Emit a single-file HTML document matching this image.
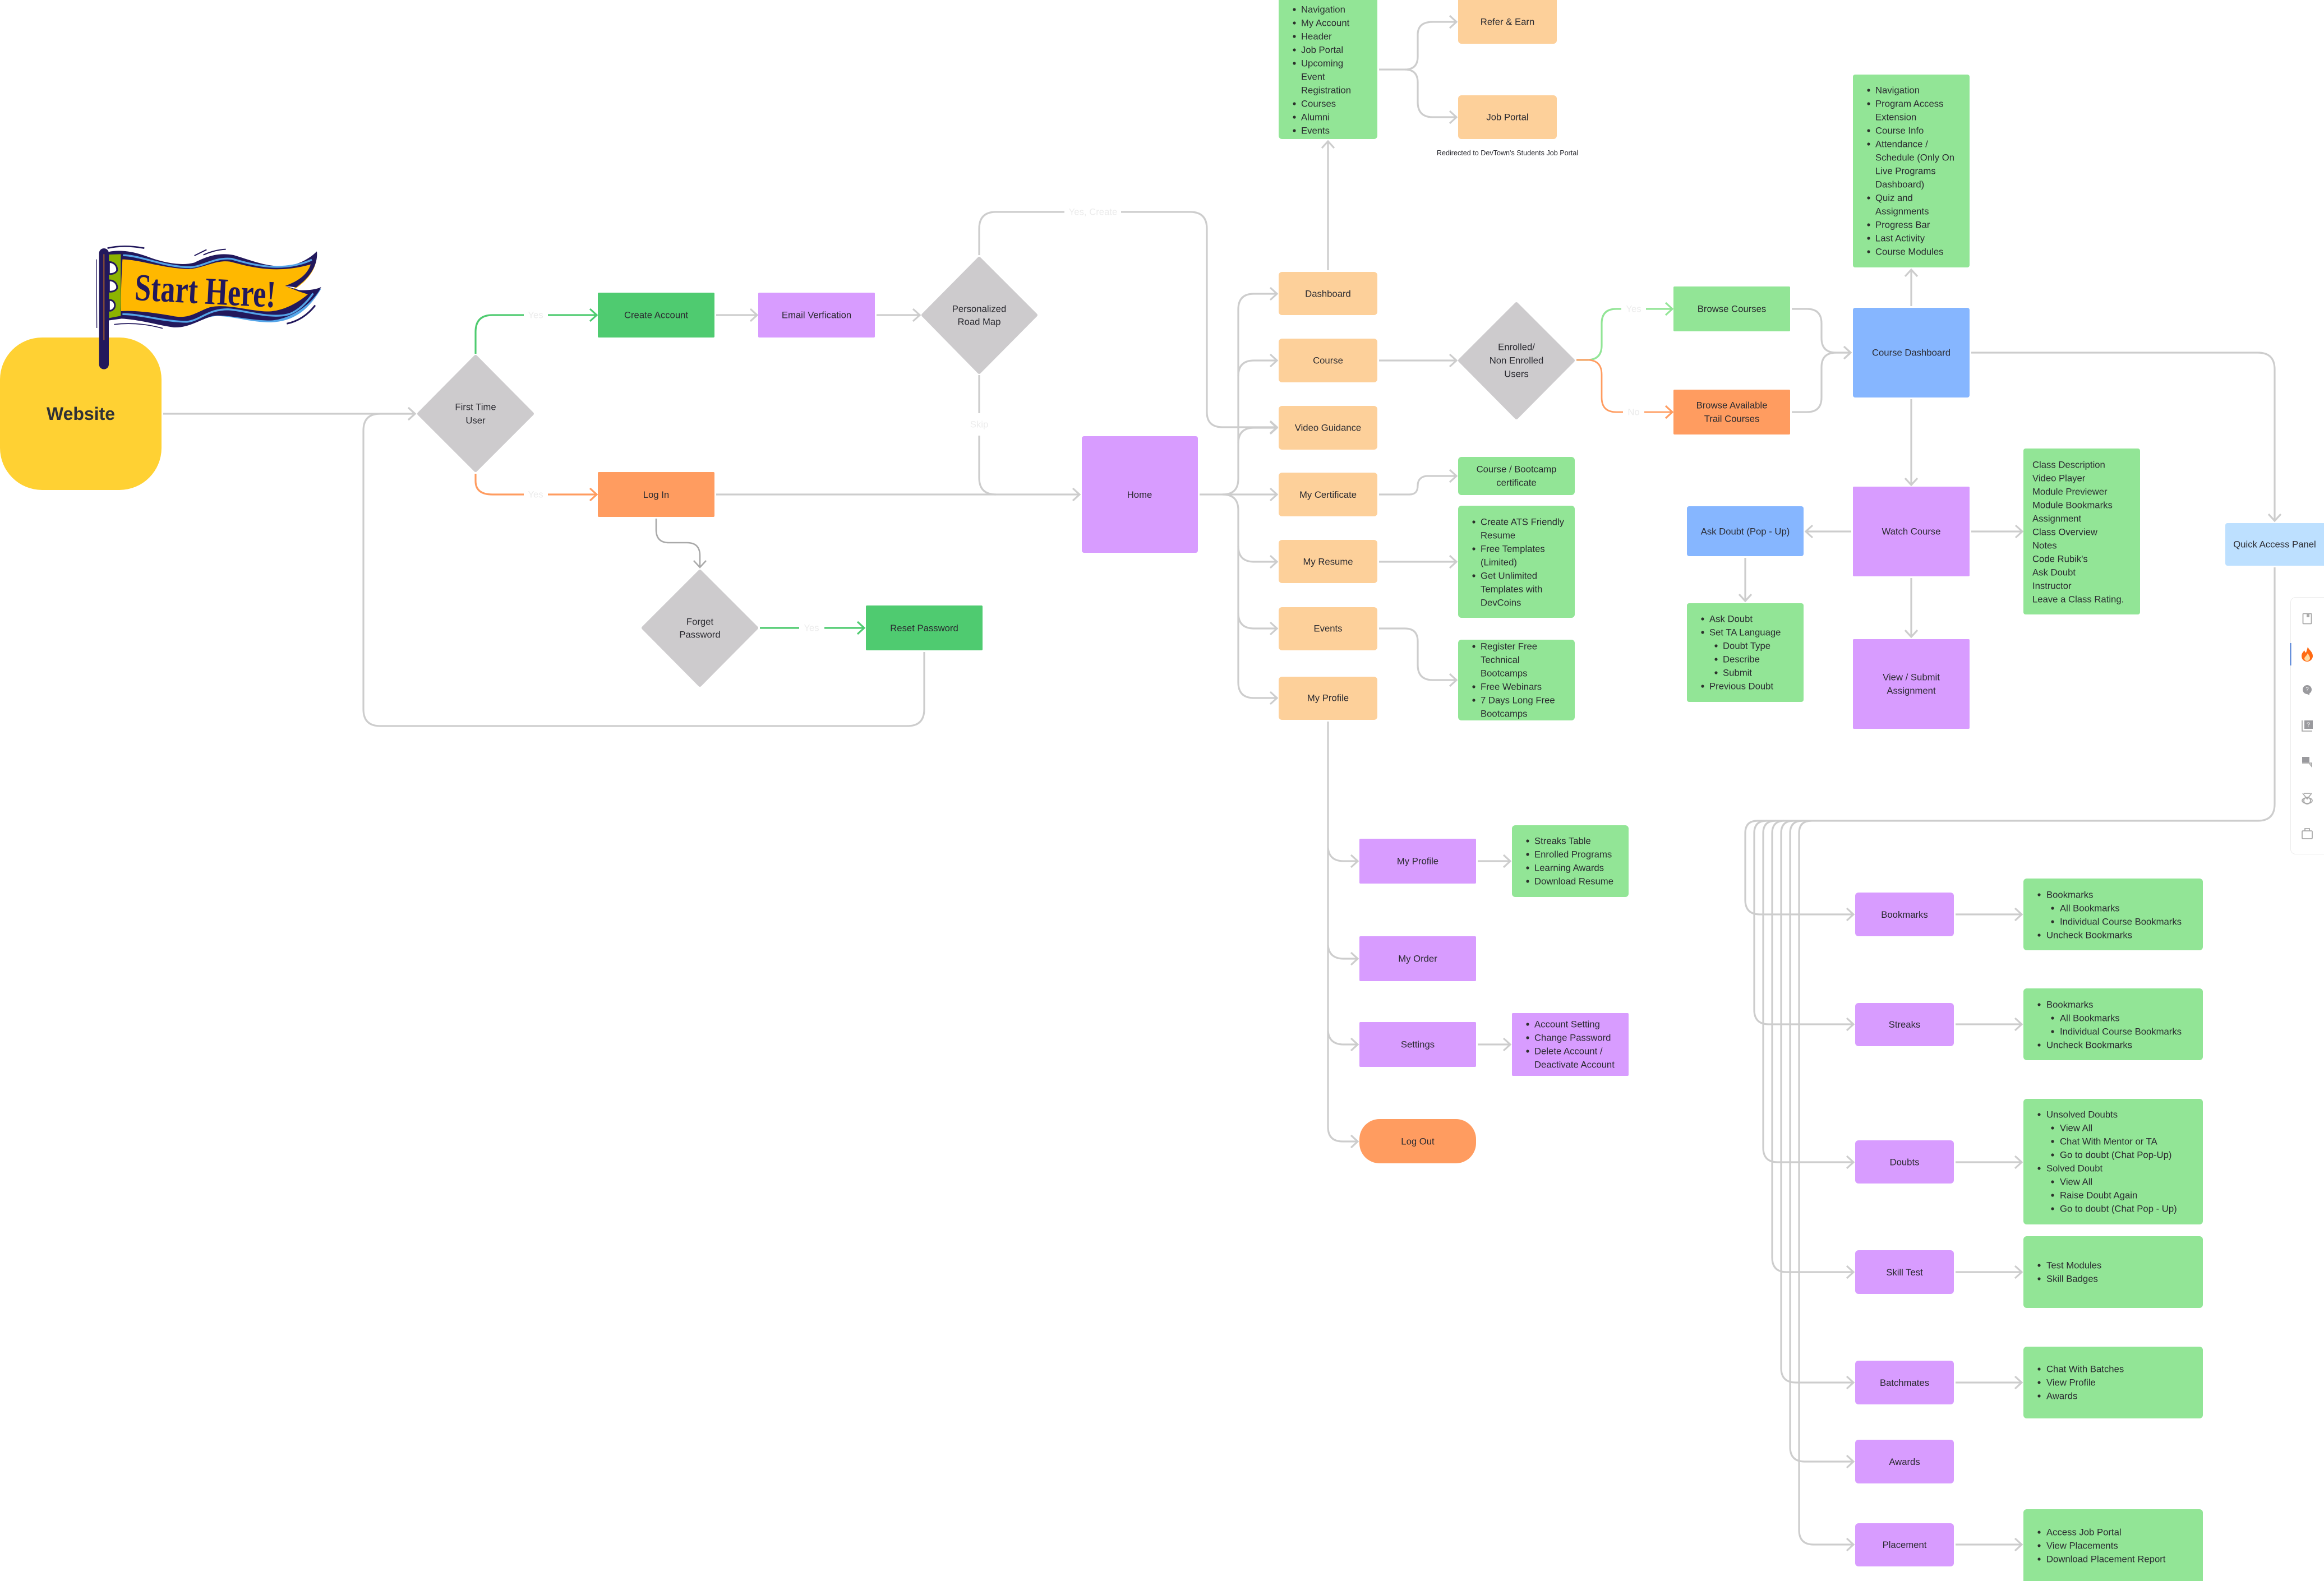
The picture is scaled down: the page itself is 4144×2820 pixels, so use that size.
<!DOCTYPE html>
<html lang="en">
<head>
<meta charset="utf-8">
<title>Website user flow</title>
<style>
html,body{margin:0;padding:0;background:#fff;}
body{width:4144px;height:2820px;overflow:hidden;}
svg{display:block;}
text{font-family:"Liberation Sans",sans-serif;font-size:16.7px;fill:#2a2a30;dominant-baseline:central;}
.c text,text.c{text-anchor:middle;}
.ln{fill:none;stroke:#cdcdcd;stroke-width:3.2;stroke-linejoin:round;}
.lb{fill:#ececec;text-anchor:middle;}
.bu{fill:#2b2f2b;}
</style>
</head>
<body>
<svg xmlns="http://www.w3.org/2000/svg" width="4144" height="2820" viewBox="0 0 4144 2820">
<defs>
<marker id="ag" markerUnits="userSpaceOnUse" markerWidth="30" markerHeight="30" refX="16" refY="15" orient="auto" overflow="visible"><path d="M4 4 L16 15 L4 26" fill="none" stroke="#cdcdcd" stroke-width="3.2"/></marker>
<marker id="ad" markerUnits="userSpaceOnUse" markerWidth="30" markerHeight="30" refX="16" refY="15" orient="auto" overflow="visible"><path d="M4 4 L16 15 L4 26" fill="none" stroke="#a9a9a9" stroke-width="2.6"/></marker>
<marker id="agr" markerUnits="userSpaceOnUse" markerWidth="30" markerHeight="30" refX="16" refY="15" orient="auto" overflow="visible"><path d="M4 4 L16 15 L4 26" fill="none" stroke="#4fcb70" stroke-width="3.2"/></marker>
<marker id="alg" markerUnits="userSpaceOnUse" markerWidth="30" markerHeight="30" refX="16" refY="15" orient="auto" overflow="visible"><path d="M4 4 L16 15 L4 26" fill="none" stroke="#92e596" stroke-width="3.2"/></marker>
<marker id="aor" markerUnits="userSpaceOnUse" markerWidth="30" markerHeight="30" refX="16" refY="15" orient="auto" overflow="visible"><path d="M4 4 L16 15 L4 26" fill="none" stroke="#ff9c60" stroke-width="3.2"/></marker>
</defs>

<!-- connectors -->
<g class="ln">
<path d="M291 738 H740" marker-end="url(#ag)"/>
<path d="M1648 1163 V1265 Q1648 1295 1618 1295 H678 Q648 1295 648 1265 V768 Q648 738 678 738 H740" marker-end="url(#ag)"/>
<path d="M1277 562 H1350" marker-end="url(#ag)"/>
<path d="M1563 562 H1640" marker-end="url(#ag)"/>
<path d="M1746 455 V408 Q1746 378 1776 378 H2122 Q2152 378 2152 408 V735 Q2152 762 2180 762 H2277" marker-end="url(#ag)"/>
<path d="M1746 669 V852 Q1746 882 1776 882"/>
<path d="M1277 882 H1925" marker-end="url(#ag)"/>

<path d="M2139 882 H2277" marker-end="url(#ag)"/>
<path d="M2180 882 Q2208 882 2208 854 V552 Q2208 524 2236 524 H2277" marker-end="url(#ag)"/>
<path d="M2208 671 Q2208 643 2236 643 H2277" marker-end="url(#ag)"/>
<path d="M2208 791 Q2208 763 2236 763 H2277" marker-end="url(#ag)"/>
<path d="M2180 882 Q2208 882 2208 910 V1217 Q2208 1245 2236 1245 H2277" marker-end="url(#ag)"/>
<path d="M2208 974 Q2208 1002 2236 1002 H2277" marker-end="url(#ag)"/>
<path d="M2208 1093 Q2208 1121 2236 1121 H2277" marker-end="url(#ag)"/>

<path d="M2368 482 V252" marker-end="url(#ag)"/>
<path d="M2459 124 H2505 Q2528 124 2528 101 V62 Q2528 39 2555 39 H2597" marker-end="url(#ag)"/>
<path d="M2505 124 Q2528 124 2528 147 V182 Q2528 209 2555 209 H2597" marker-end="url(#ag)"/>
<path d="M2459 643 H2597" marker-end="url(#ag)"/>
<path d="M2459 882 H2513 C2525 882 2528 875 2528 866 C2528 855 2535 849 2546 849 H2597" marker-end="url(#ag)"/>
<path d="M2459 1002 H2597" marker-end="url(#ag)"/>
<path d="M2459 1121 H2505 Q2528 1121 2528 1144 V1186 Q2528 1213 2555 1213 H2597" marker-end="url(#ag)"/>

<path d="M2368 1287 V2010 Q2368 2036 2394 2036 H2421" marker-end="url(#ag)"/>
<path d="M2368 1512 Q2370 1536 2396 1536 H2421" marker-end="url(#ag)"/>
<path d="M2368 1686 Q2370 1710 2396 1710 H2421" marker-end="url(#ag)"/>
<path d="M2368 1839 Q2370 1863 2396 1863 H2421" marker-end="url(#ag)"/>
<path d="M2635 1536 H2693" marker-end="url(#ag)"/>
<path d="M2635 1863 H2693" marker-end="url(#ag)"/>

<path d="M3195 551 H3222 Q3248 551 3248 577 V603 Q3248 629 3274 629 H3300" marker-end="url(#ag)"/>
<path d="M3195 735 H3222 Q3248 735 3248 709 V655 Q3248 629 3274 629 H3300" marker-end="url(#ag)"/>
<path d="M3408 546 V481" marker-end="url(#ag)"/>
<path d="M3408 712 V865" marker-end="url(#ag)"/>
<path d="M3408 1031 V1136" marker-end="url(#ag)"/>
<path d="M3301 948 H3220" marker-end="url(#ag)"/>
<path d="M3515 948 H3606" marker-end="url(#ag)"/>
<path d="M3112 995 V1072" marker-end="url(#ag)"/>
<path d="M3515 629 H4026 Q4056 629 4056 659 V929" marker-end="url(#ag)"/>

<path d="M4056 1012 V1434 Q4056 1464 4026 1464 H3134 Q3112 1464 3112 1486 V1605 Q3112 1631 3138 1631 H3305" marker-end="url(#ag)"/>
<path d="M3150 1464 Q3128 1464 3128 1486 V1801 Q3128 1827 3154 1827 H3305" marker-end="url(#ag)"/>
<path d="M3166 1464 Q3144 1464 3144 1486 V2047 Q3144 2073 3170 2073 H3305" marker-end="url(#ag)"/>
<path d="M3182 1464 Q3160 1464 3160 1486 V2243 Q3160 2269 3186 2269 H3305" marker-end="url(#ag)"/>
<path d="M3198 1464 Q3176 1464 3176 1486 V2440 Q3176 2466 3202 2466 H3305" marker-end="url(#ag)"/>
<path d="M3214 1464 Q3192 1464 3192 1486 V2581 Q3192 2607 3218 2607 H3305" marker-end="url(#ag)"/>
<path d="M3230 1464 Q3208 1464 3208 1486 V2729 Q3208 2755 3234 2755 H3305" marker-end="url(#ag)"/>
<path d="M3487 1631 H3605" marker-end="url(#ag)"/>
<path d="M3487 1827 H3605" marker-end="url(#ag)"/>
<path d="M3487 2073 H3605" marker-end="url(#ag)"/>
<path d="M3487 2269 H3605" marker-end="url(#ag)"/>
<path d="M3487 2466 H3605" marker-end="url(#ag)"/>
<path d="M3487 2755 H3605" marker-end="url(#ag)"/>
</g>

<!-- coloured connectors -->
<path d="M848 631 V592 Q848 562 878 562 H1064" fill="none" stroke="#4fcb70" stroke-width="3.2" marker-end="url(#agr)"/>
<path d="M848 845 V858 Q848 882 878 882 H1064" fill="none" stroke="#ff9c60" stroke-width="3.2" marker-end="url(#aor)"/>
<path d="M1355 1120 H1541" fill="none" stroke="#4fcb70" stroke-width="3.2" marker-end="url(#agr)"/>
<path d="M1170 925 V945 Q1170 968 1193 968 H1225 Q1248 968 1248 991 V1012" fill="none" stroke="#a9a9a9" stroke-width="2.6" marker-end="url(#ad)"/>
<path d="M2811 642 H2830 Q2856 642 2856 616 V577 Q2856 551 2882 551 H2982" fill="none" stroke="#92e596" stroke-width="3.2" marker-end="url(#alg)"/>
<path d="M2811 642 H2830 Q2856 642 2856 668 V709 Q2856 735 2882 735 H2982" fill="none" stroke="#ff9c60" stroke-width="2.8" marker-end="url(#aor)"/>

<!-- connector labels -->
<rect x="934" y="550" width="43" height="24" fill="#fff"/><text x="955" y="562" class="lb">Yes</text>
<rect x="934" y="870" width="43" height="24" fill="#fff"/><text x="955" y="882" class="lb">Yes</text>
<rect x="1898" y="366" width="101" height="24" fill="#fff"/><text x="1949" y="378" class="lb">Yes, Create</text>
<rect x="1726" y="737" width="40" height="40" fill="#fff"/><text x="1746" y="757" class="lb">Skip</text>
<rect x="1425" y="1108" width="45" height="24" fill="#fff"/><text x="1447" y="1120" class="lb">Yes</text>
<rect x="2891" y="539" width="44" height="24" fill="#fff"/><text x="2913" y="551" class="lb">Yes</text>
<rect x="2894" y="723" width="38" height="24" fill="#fff"/><text x="2913" y="735" class="lb">No</text>

<!-- website -->
<rect x="0" y="602" width="288" height="272" rx="75" ry="75" fill="#ffd133"/>
<text x="144" y="738" style="font-size:32px;font-weight:700;text-anchor:middle;fill:#2f3136">Website</text>

<!-- flag -->
<g transform="translate(150 420) scale(.33333)">
<path d="M198 440 C300 440 400 465 480 478 C570 490 630 440 700 432 C790 428 880 465 1000 465 C1120 460 1200 400 1268 285 L1230 300 L1100 400 L700 420 L400 470 L200 430 Z" fill="#55a5e8"/>
<path d="M1190 150 C1240 130 1245 120 1240 140 C1232 190 1190 250 1120 290 Z" fill="#ffb800"/>
<path d="M130 88 C190 75 260 85 330 110 C420 145 520 165 590 145 C660 110 720 90 800 105 C900 135 1000 178 1100 160 C1160 150 1210 120 1245 85 C1250 130 1235 200 1150 265 L1135 278 L1075 270 L1150 292 C1190 295 1240 290 1268 276 C1240 340 1130 445 1000 455 C880 455 760 420 690 430 C620 450 560 495 480 492 C400 482 300 450 200 445 L130 455 Z" fill="#22185c"/>
<path d="M133 102 L196 100 L196 430 L133 442 Z" fill="#8cb300"/>
<path d="M133 142 C170 142 180 175 175 190 C165 205 145 208 133 205 Z M133 240 C170 240 180 270 175 285 C165 300 145 302 133 300 Z M133 345 C165 345 170 375 160 390 C150 402 140 404 133 402 Z" fill="#fff" stroke="#22185c" stroke-width="9"/>
<path d="M205 128 C300 130 420 175 560 180 C640 175 700 130 780 140 C880 165 1020 210 1212 155 C1190 220 1130 250 1075 270 L1150 300 L1197 315 C1120 380 1030 415 950 405 C850 395 750 365 670 385 C600 410 560 450 470 430 C380 415 280 400 198 405 C195 320 200 220 205 128 Z" fill="#ffb800"/>
<path d="M208 106 C300 106 430 170 570 170 C640 165 700 115 790 125 C880 150 1050 205 1218 130" fill="none" stroke="#55a5e8" stroke-width="10"/>
<path d="M205 421 C300 420 430 462 550 462 C620 455 660 395 770 395 C860 400 1000 450 1100 420 C1150 400 1190 360 1225 310" fill="none" stroke="#55a5e8" stroke-width="10"/>
<line x1="106" y1="95" x2="106" y2="690" stroke="#22185c" stroke-width="52" stroke-linecap="round"/>
<line x1="106" y1="100" x2="106" y2="560" stroke="#c9721e" stroke-width="5"/>
<g fill="none" stroke="#22185c">
<path d="M125 68 C180 55 250 55 322 68" stroke-width="8"/>
<path d="M66 128 C66 250 68 370 68 495" stroke-width="4"/>
<path d="M160 476 C250 465 340 475 420 497" stroke-width="5"/>
<path d="M590 108 L655 76" stroke-width="6"/>
<path d="M638 104 C680 85 720 76 758 74" stroke-width="6"/>
<path d="M1084 472 C1150 458 1200 420 1236 374" stroke-width="9"/>
</g>
<text transform="translate(268 345) rotate(3)" textLength="755" lengthAdjust="spacingAndGlyphs" style="font-family:'Liberation Serif',serif;font-size:205px;font-weight:700;fill:#22185c;dominant-baseline:alphabetic">Start Here!</text>
</g>

<!-- diamonds -->
<g fill="#cdcbcd" stroke="#cdcbcd" stroke-width="6" stroke-linejoin="round">
<path d="M848 636 L949 738 L848 839 L747 738 Z"/>
<path d="M1746 461 L1847 562 L1746 664 L1646 562 Z"/>
<path d="M1248 1019 L1349 1120 L1248 1222 L1147 1120 Z"/>
<path d="M2704 542 L2805 643 L2704 745 L2603 643 Z"/>
</g>
<g class="c">
<text x="848" y="726">First Time</text><text x="848" y="750">User</text>
<text x="1746" y="551">Personalized</text><text x="1746" y="574">Road Map</text>
<text x="1248" y="1109">Forget</text><text x="1248" y="1132">Password</text>
<text x="2704" y="619">Enrolled/</text><text x="2704" y="643">Non Enrolled</text><text x="2704" y="667">Users</text>
</g>

<!-- boxes -->
<g fill="#4fcb70"><rect x="1066" y="522" width="208" height="80" rx="2"/><rect x="1544" y="1080" width="208" height="80" rx="2"/></g>
<g fill="#d89cff">
<rect x="1352" y="522" width="208" height="80" rx="2"/>
<rect x="1929" y="778" width="207" height="208" rx="4"/>
<rect x="2424" y="1496" width="208" height="80" rx="2"/>
<rect x="2424" y="1670" width="208" height="80" rx="2"/>
<rect x="2424" y="1823" width="208" height="80" rx="2"/>
<rect x="2696" y="1807" width="208" height="112" rx="2"/>
<rect x="3304" y="868" width="208" height="160" rx="2"/>
<rect x="3304" y="1140" width="208" height="160" rx="2"/>
<rect x="3308" y="1592" width="176" height="78" rx="6"/>
<rect x="3308" y="1789" width="176" height="77" rx="6"/>
<rect x="3308" y="2034" width="176" height="77" rx="6"/>
<rect x="3308" y="2230" width="176" height="78" rx="6"/>
<rect x="3308" y="2427" width="176" height="78" rx="6"/>
<rect x="3308" y="2568" width="176" height="78" rx="6"/>
<rect x="3308" y="2717" width="176" height="77" rx="6"/>
</g>
<g fill="#ff9c60">
<rect x="1066" y="842" width="208" height="80" rx="2"/>
<rect x="2984" y="695" width="208" height="80" rx="2"/>
<rect x="2424" y="1996" width="208" height="79" rx="36"/>
</g>
<g fill="#fdd09a">
<rect x="2280" y="485" width="176" height="77" rx="6"/>
<rect x="2280" y="604" width="176" height="78" rx="6"/>
<rect x="2280" y="724" width="176" height="78" rx="6"/>
<rect x="2280" y="843" width="176" height="78" rx="6"/>
<rect x="2280" y="963" width="176" height="77" rx="6"/>
<rect x="2280" y="1083" width="176" height="77" rx="6"/>
<rect x="2280" y="1207" width="176" height="77" rx="6"/>
<rect x="2600" y="-6" width="176" height="84" rx="6"/>
<rect x="2600" y="170" width="176" height="78" rx="6"/>
</g>
<g fill="#92e596">
<rect x="2280" y="-6" width="176" height="254" rx="6"/>
<rect x="2600" y="815" width="208" height="68" rx="6"/>
<rect x="2600" y="902" width="208" height="200" rx="6"/>
<rect x="2600" y="1141" width="208" height="144" rx="6"/>
<rect x="2696" y="1472" width="208" height="128" rx="6"/>
<rect x="2984" y="511" width="208" height="80" rx="2"/>
<rect x="3304" y="133" width="208" height="344" rx="4"/>
<rect x="3608" y="800" width="208" height="296" rx="4"/>
<rect x="3008" y="1076" width="208" height="176" rx="4"/>
<rect x="3608" y="1567" width="320" height="128" rx="6"/>
<rect x="3608" y="1763" width="320" height="128" rx="6"/>
<rect x="3608" y="1960" width="320" height="224" rx="6"/>
<rect x="3608" y="2205" width="320" height="128" rx="6"/>
<rect x="3608" y="2402" width="320" height="128" rx="6"/>
<rect x="3608" y="2692" width="320" height="140" rx="6"/>
</g>
<g fill="#86b6ff">
<rect x="3304" y="549" width="208" height="160" rx="4"/>
<rect x="3008" y="903" width="208" height="89" rx="4"/>
</g>
<rect x="3968" y="933" width="190" height="76" rx="4" fill="#bde0ff"/>

<!-- centred labels -->
<g class="c">
<text x="1170" y="562">Create Account</text>
<text x="1456" y="562">Email Verfication</text>
<text x="1170" y="882.5">Log In</text>
<text x="1648" y="1120.5">Reset Password</text>
<text x="2032" y="882.5">Home</text>
<text x="2368" y="524">Dashboard</text>
<text x="2368" y="643">Course</text>
<text x="2368" y="763">Video Guidance</text>
<text x="2368" y="882.5">My Certificate</text>
<text x="2368" y="1002">My Resume</text>
<text x="2368" y="1121">Events</text>
<text x="2368" y="1245">My Profile</text>
<text x="2688" y="39">Refer &amp; Earn</text>
<text x="2688" y="209">Job Portal</text>
<text x="2688" y="273" style="font-size:12.6px">Redirected to DevTown's Students Job Portal</text>
<text x="2704" y="837">Course / Bootcamp</text>
<text x="2704" y="861">certificate</text>
<text x="2528" y="1536">My Profile</text>
<text x="2528" y="1710">My Order</text>
<text x="2528" y="1863">Settings</text>
<text x="2528" y="2036">Log Out</text>
<text x="3088" y="551">Browse Courses</text>
<text x="3088" y="723">Browse Available</text>
<text x="3088" y="747">Trail Courses</text>
<text x="3408" y="629">Course Dashboard</text>
<text x="3408" y="948">Watch Course</text>
<text x="3408" y="1208">View / Submit</text>
<text x="3408" y="1232">Assignment</text>
<text x="3112" y="948">Ask Doubt (Pop - Up)</text>
<text x="4056" y="971">Quick Access Panel</text>
<text x="3396" y="1631.5">Bookmarks</text>
<text x="3396" y="1827.5">Streaks</text>
<text x="3396" y="2073">Doubts</text>
<text x="3396" y="2269.5">Skill Test</text>
<text x="3396" y="2466.5">Batchmates</text>
<text x="3396" y="2607.5">Awards</text>
<text x="3396" y="2755.5">Placement</text>
</g>

<!-- list: dashboard -->
<g>
<text x="2320" y="17">Navigation</text><text x="2320" y="41">My Account</text><text x="2320" y="65">Header</text><text x="2320" y="89">Job Portal</text><text x="2320" y="113">Upcoming</text><text x="2320" y="137">Event</text><text x="2320" y="161">Registration</text><text x="2320" y="185">Courses</text><text x="2320" y="209">Alumni</text><text x="2320" y="233">Events</text>
</g>
<g class="bu"><circle cx="2308" cy="17" r="2.6"/><circle cx="2308" cy="41" r="2.6"/><circle cx="2308" cy="65" r="2.6"/><circle cx="2308" cy="89" r="2.6"/><circle cx="2308" cy="113" r="2.6"/><circle cx="2308" cy="185" r="2.6"/><circle cx="2308" cy="209" r="2.6"/><circle cx="2308" cy="233" r="2.6"/></g>

<!-- list: resume -->
<g>
<text x="2640" y="931">Create ATS Friendly</text><text x="2640" y="955">Resume</text><text x="2640" y="979">Free Templates</text><text x="2640" y="1003">(Limited)</text><text x="2640" y="1027">Get Unlimited</text><text x="2640" y="1051">Templates with</text><text x="2640" y="1075">DevCoins</text>
</g>
<g class="bu"><circle cx="2628" cy="931" r="2.6"/><circle cx="2628" cy="979" r="2.6"/><circle cx="2628" cy="1027" r="2.6"/></g>

<!-- list: events -->
<g>
<text x="2640" y="1153">Register Free</text><text x="2640" y="1177">Technical</text><text x="2640" y="1201">Bootcamps</text><text x="2640" y="1225">Free Webinars</text><text x="2640" y="1249">7 Days Long Free</text><text x="2640" y="1273">Bootcamps</text>
</g>
<g class="bu"><circle cx="2628" cy="1153" r="2.6"/><circle cx="2628" cy="1225" r="2.6"/><circle cx="2628" cy="1249" r="2.6"/></g>

<!-- list: my profile -->
<g>
<text x="2736" y="1500">Streaks Table</text><text x="2736" y="1524">Enrolled Programs</text><text x="2736" y="1548">Learning Awards</text><text x="2736" y="1572">Download Resume</text>
</g>
<g class="bu"><circle cx="2724" cy="1500" r="2.6"/><circle cx="2724" cy="1524" r="2.6"/><circle cx="2724" cy="1548" r="2.6"/><circle cx="2724" cy="1572" r="2.6"/></g>

<!-- list: settings -->
<g>
<text x="2736" y="1827">Account Setting</text><text x="2736" y="1851">Change Password</text><text x="2736" y="1875">Delete Account /</text><text x="2736" y="1899">Deactivate Account</text>
</g>
<g class="bu"><circle cx="2724" cy="1827" r="2.6"/><circle cx="2724" cy="1851" r="2.6"/><circle cx="2724" cy="1875" r="2.6"/></g>

<!-- list: course dashboard -->
<g>
<text x="3344" y="161">Navigation</text><text x="3344" y="185">Program Access</text><text x="3344" y="209">Extension</text><text x="3344" y="233">Course Info</text><text x="3344" y="257">Attendance /</text><text x="3344" y="281">Schedule (Only On</text><text x="3344" y="305">Live Programs</text><text x="3344" y="329">Dashboard)</text><text x="3344" y="353">Quiz and</text><text x="3344" y="377">Assignments</text><text x="3344" y="401">Progress Bar</text><text x="3344" y="425">Last Activity</text><text x="3344" y="449">Course Modules</text>
</g>
<g class="bu"><circle cx="3332" cy="161" r="2.6"/><circle cx="3332" cy="185" r="2.6"/><circle cx="3332" cy="233" r="2.6"/><circle cx="3332" cy="257" r="2.6"/><circle cx="3332" cy="353" r="2.6"/><circle cx="3332" cy="401" r="2.6"/><circle cx="3332" cy="425" r="2.6"/><circle cx="3332" cy="449" r="2.6"/></g>

<!-- list: class -->
<g>
<text x="3624" y="829">Class Description</text><text x="3624" y="853">Video Player</text><text x="3624" y="877">Module Previewer</text><text x="3624" y="901">Module Bookmarks</text><text x="3624" y="925">Assignment</text><text x="3624" y="949">Class Overview</text><text x="3624" y="973">Notes</text><text x="3624" y="997">Code Rubik's</text><text x="3624" y="1021">Ask Doubt</text><text x="3624" y="1045">Instructor</text><text x="3624" y="1069">Leave a Class Rating.</text>
</g>

<!-- list: ask doubt -->
<g>
<text x="3048" y="1104">Ask Doubt</text><text x="3048" y="1128">Set TA Language</text><text x="3072" y="1152">Doubt Type</text><text x="3072" y="1176">Describe</text><text x="3072" y="1200">Submit</text><text x="3048" y="1224">Previous Doubt</text>
</g>
<g class="bu"><circle cx="3036" cy="1104" r="2.6"/><circle cx="3036" cy="1128" r="2.6"/><circle cx="3060" cy="1152" r="2.6"/><circle cx="3060" cy="1176" r="2.6"/><circle cx="3060" cy="1200" r="2.6"/><circle cx="3036" cy="1224" r="2.6"/></g>

<!-- list: bookmarks -->
<g>
<text x="3649" y="1596">Bookmarks</text><text x="3673" y="1620">All Bookmarks</text><text x="3673" y="1644">Individual Course Bookmarks</text><text x="3649" y="1668">Uncheck Bookmarks</text>
<text x="3649" y="1792">Bookmarks</text><text x="3673" y="1816">All Bookmarks</text><text x="3673" y="1840">Individual Course Bookmarks</text><text x="3649" y="1864">Uncheck Bookmarks</text>
<text x="3649" y="1988">Unsolved Doubts</text><text x="3673" y="2012">View All</text><text x="3673" y="2036">Chat With Mentor or TA</text><text x="3673" y="2060">Go to doubt (Chat Pop-Up)</text><text x="3649" y="2084">Solved Doubt</text><text x="3673" y="2108">View All</text><text x="3673" y="2132">Raise Doubt Again</text><text x="3673" y="2156">Go to doubt (Chat Pop - Up)</text>
<text x="3649" y="2257">Test Modules</text><text x="3649" y="2281">Skill Badges</text>
<text x="3649" y="2442">Chat With Batches</text><text x="3649" y="2466">View Profile</text><text x="3649" y="2490">Awards</text>
<text x="3649" y="2733">Access Job Portal</text><text x="3649" y="2757">View Placements</text><text x="3649" y="2781">Download Placement Report</text>
</g>
<g class="bu">
<circle cx="3636" cy="1596" r="2.6"/><circle cx="3660" cy="1620" r="2.6"/><circle cx="3660" cy="1644" r="2.6"/><circle cx="3636" cy="1668" r="2.6"/>
<circle cx="3636" cy="1792" r="2.6"/><circle cx="3660" cy="1816" r="2.6"/><circle cx="3660" cy="1840" r="2.6"/><circle cx="3636" cy="1864" r="2.6"/>
<circle cx="3636" cy="1988" r="2.6"/><circle cx="3660" cy="2012" r="2.6"/><circle cx="3660" cy="2036" r="2.6"/><circle cx="3660" cy="2060" r="2.6"/><circle cx="3636" cy="2084" r="2.6"/><circle cx="3660" cy="2108" r="2.6"/><circle cx="3660" cy="2132" r="2.6"/><circle cx="3660" cy="2156" r="2.6"/>
<circle cx="3636" cy="2257" r="2.6"/><circle cx="3636" cy="2281" r="2.6"/>
<circle cx="3636" cy="2442" r="2.6"/><circle cx="3636" cy="2466" r="2.6"/><circle cx="3636" cy="2490" r="2.6"/>
<circle cx="3636" cy="2733" r="2.6"/><circle cx="3636" cy="2757" r="2.6"/><circle cx="3636" cy="2781" r="2.6"/>
</g>

<!-- quick access sidebar -->
<rect x="4084.5" y="1065.5" width="70" height="458" rx="9" fill="#fff" stroke="#ececec" stroke-width="1"/>
<rect x="4084" y="1147" width="1.5" height="40" fill="#3a6fd0"/>
<g fill="none" stroke="#a9a9a9" stroke-width="1.8">
<rect x="4106.5" y="1094.5" width="15" height="18" rx="1"/>
<rect x="4113" y="1095" width="5" height="6" fill="#a9a9a9" stroke="none"/>
<path d="M4105 1285 V1304 H4123"/>
<path d="M4105 1361 H4122 V1367 L4118 1362"/>
<circle cx="4114" cy="1428" r="6"/>
<ellipse cx="4114" cy="1428" rx="9" ry="5"/>
<path d="M4106 1415 L4114 1425 L4122 1415 M4108 1415 H4120"/>
<rect x="4105" y="1482" width="18" height="14" rx="1.5"/>
<path d="M4110 1482 V1478 H4118 V1482"/>
</g>
<path d="M4115 1154 C4118 1160 4124 1163 4124 1170 C4124 1176 4119 1180 4114 1180 C4108 1180 4104 1176 4104 1170 C4104 1165 4107 1163 4109 1160 C4110 1163 4111 1164 4112 1164 C4113 1161 4114 1158 4115 1154 Z" fill="#ff6a13"/>
<path d="M4115 1165 C4117 1169 4119 1171 4119 1174 C4119 1177 4116 1179 4114 1179 C4111 1179 4109 1177 4109 1174 C4110 1171 4113 1170 4115 1165 Z" fill="#ffd9a0"/>
<circle cx="4114" cy="1230" r="8" fill="#9a9a9e"/>
<path d="M4112 1237 L4118 1240 L4118 1236 Z" fill="#9a9a9e"/>
<text x="4114" y="1230" style="font-size:10px;text-anchor:middle;fill:#fff">?</text>
<rect x="4109" y="1285" width="15" height="15" fill="#9a9a9e"/>
<text x="4116" y="1293" style="font-size:11px;text-anchor:middle;fill:#fff">?</text>
<rect x="4105" y="1350" width="13" height="10" fill="#9a9a9e"/>
</svg>
</body>
</html>
